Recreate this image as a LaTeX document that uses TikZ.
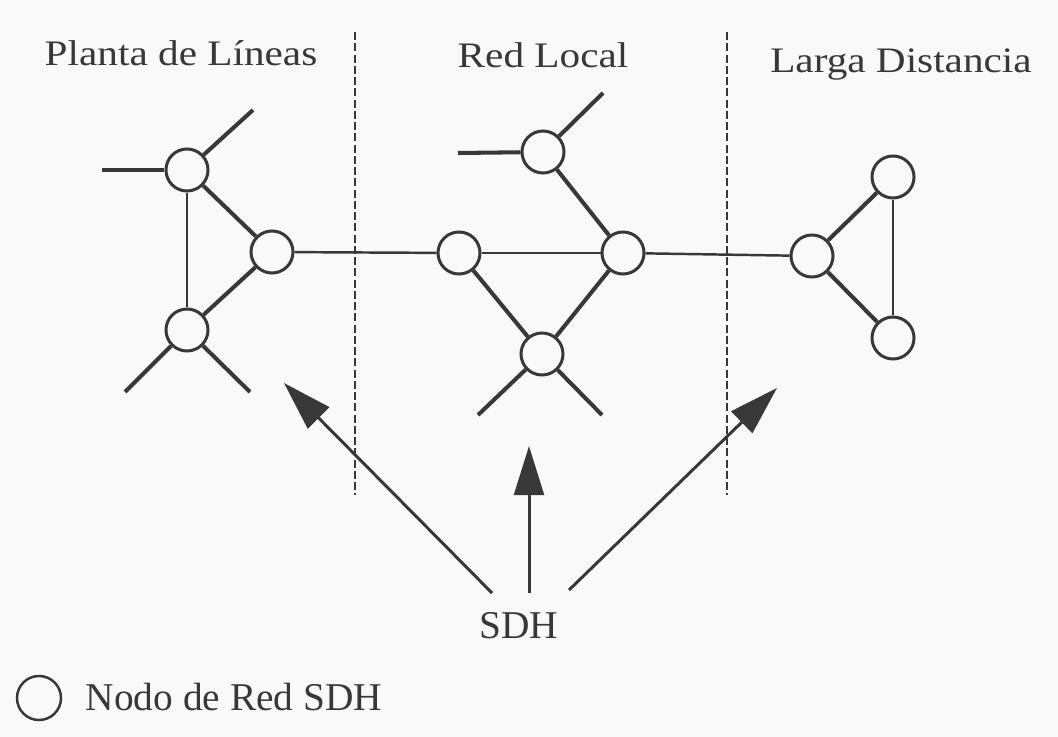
\documentclass[tikz,border=0pt]{standalone}
\usepackage{fontspec}
\setmainfont{Liberation Serif}
\usepackage{graphicx}
\usepackage{tikz}
\usetikzlibrary{arrows.meta}
\definecolor{tinta}{gray}{0.22}
\definecolor{papel}{gray}{0.975}
\newcommand{\ancho}[1]{\scalebox{1.15}[1]{#1}}

\begin{document}
\begin{tikzpicture}[x=0.01cm,y=-0.01cm]
			\tikzstyle{every node} = [font = \fontsize{11.2}{13}\selectfont, text = tinta, inner sep = 0pt]
			\tikzstyle{nodo} = [circle, draw = tinta, line width = 0.85pt, fill = papel, minimum size = 0.42cm]
			\tikzstyle{grueso} = [draw = tinta, line width = 1.15pt]
			\tikzstyle{fino} = [draw = tinta, line width = 0.7pt]
			\tikzstyle{limite} = [draw = tinta, line width = 0.45pt, dash pattern = on 2.3pt off 0.9pt]
			\tikzstyle{flecha} = [draw = tinta, line width = 0.85pt, -{Triangle[length=14pt, width=8.5pt]}]
			\tikzstyle{titulo} = [anchor = base, font = \fontsize{10.2}{12}\selectfont]
				\useasboundingbox[fill = papel] (0,0) rectangle (1058,737);
				% zonas
				\coordinate (corte1a) at (355,32);
				\coordinate (corte1b) at (355,495);
				\coordinate (corte2a) at (727,32);
				\coordinate (corte2b) at (727,495);
				\path[limite] (corte1a) -- (corte1b);
				\path[limite] (corte2a) -- (corte2b);
				\node[titulo] (planta) at (181,66) {\ancho{Planta de Líneas}};
				\node[titulo] (local) at (543,68) {\ancho{Red Local}};
				\node[titulo] (larga) at (901,73) {\ancho{Larga Distancia}};
				% nodos SDH
				\node[nodo] (pa1) at (187,170) {};
				\node[nodo] (pa2) at (272,252) {};
				\node[nodo] (pa3) at (187,330) {};
				\node[nodo] (pb1) at (543,152) {};
				\node[nodo] (pb2) at (459,253) {};
				\node[nodo] (pb3) at (623,253) {};
				\node[nodo] (pb4) at (542,354) {};
				\node[nodo] (pc1) at (812,256) {};
				\node[nodo] (pc2) at (893,177) {};
				\node[nodo] (pc3) at (893,338) {};
				\coordinate (sa1) at (102,170);
				\coordinate (sa2) at (253,110);
				\coordinate (sa3) at (125,392);
				\coordinate (sa4) at (250,392);
				\coordinate (sb1) at (458,153);
				\coordinate (sb2) at (603,93);
				\coordinate (sb3) at (478,415);
				\coordinate (sb4) at (602,415);
				\path[grueso] (pa1) -- (sa1);
				\path[grueso] (pa1) -- (sa2);
				\path[grueso] (pa3) -- (sa3);
				\path[grueso] (pa3) -- (sa4);
				\path[grueso] (pb1) -- (sb1);
				\path[grueso] (pb1) -- (sb2);
				\path[grueso] (pb4) -- (sb3);
				\path[grueso] (pb4) -- (sb4);
				\path[fino] (pa1) -- (pa3);
				\path[grueso] (pa1) -- (pa2);
				\path[grueso] (pa2) -- (pa3);
				\path[fino] (pa2) -- (pb2);
				\path[grueso] (pb1) -- (pb3);
				\path[fino] (pb2) -- (pb3);
				\path[grueso] (pb2) -- (pb4);
				\path[grueso] (pb3) -- (pb4);
				\path[fino] (pb3) -- (pc1);
				\path[grueso] (pc1) -- (pc2);
				\path[grueso] (pc1) -- (pc3);
				\path[fino] (pc2) -- (pc3);
				% SDH
				\node[anchor = base] (sdh) at (519,638) {SDH};
				\coordinate (cola1) at (492,593);
				\coordinate (cola2) at (529,593);
				\coordinate (cola3) at (569,590);
				\coordinate (punta1) at (284,383);
				\coordinate (punta2) at (529,446);
				\coordinate (punta3) at (777,388);
				\path[flecha] (cola1) -- (punta1);
				\path[flecha] (cola2) -- (punta2);
				\path[flecha] (cola3) -- (punta3);
				% leyenda
				\node[nodo, minimum size = 0.44cm, line width = 0.7pt] (muestra) at (39,698) {};
				\node[anchor = base west] (leyenda) at (85,710) {Nodo de Red SDH};
		\end{tikzpicture}
\end{document}
